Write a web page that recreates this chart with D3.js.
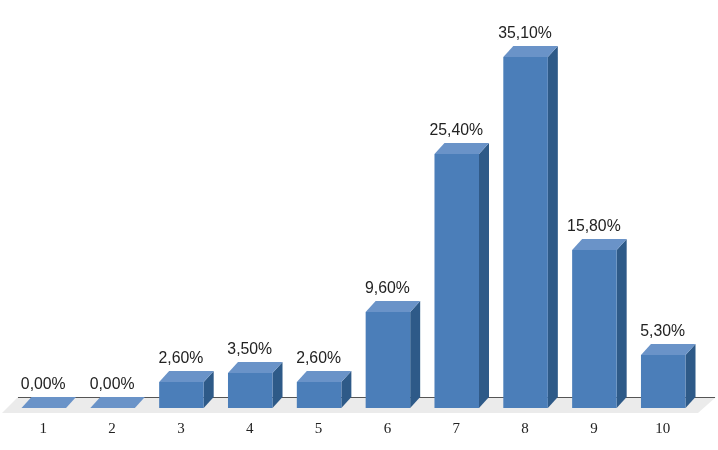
<!DOCTYPE html>
<html>
<head>
<meta charset="utf-8">
<style>
  html, body { margin: 0; padding: 0; background: #fff; }
  svg { display: block; }
  .val { font-family: "Liberation Sans", sans-serif; font-size: 15.8px; fill: #222; }
  .cat { font-family: "Liberation Serif", serif; font-size: 15px; fill: #222; }
</style>
</head>
<body>
<svg id="chart" width="718" height="450"></svg>
<script src="https://cdn.jsdelivr.net/npm/d3@7"></script>
<script>
const categories = ['1', '2', '3', '4', '5', '6', '7', '8', '9', '10'];
const values = [0, 0, 2.6, 3.5, 2.6, 9.6, 25.4, 35.1, 15.8, 5.3];
const labels = ['0,00%', '0,00%', '2,60%', '3,50%', '2,60%', '9,60%', '25,40%', '35,10%', '15,80%', '5,30%'];

const svg = d3.select('#chart');

const xScale = d3.scaleBand()
  .domain(categories)
  .range([21.5, 685.5])
  .paddingInner(0.353);
const yScale = d3.scaleLinear()
  .domain([0, 35.1])
  .range([408, 57]);

// depth of the fake 3d
const dx = 10;
const dy = 11;
const baseY = yScale(0);
const bw = xScale.bandwidth();

const g = svg.append('g').attr('filter', 'url(#soft)');
const defs = svg.append('defs');
defs.append('filter').attr('id', 'soft')
  .append('feGaussianBlur').attr('stdDeviation', 0.4);

// floor
g.append('path')
  .attr('d', d3.line()([[18, baseY - dy], [716, baseY - dy], [698, baseY + 5], [2, baseY + 5]]))
  .attr('fill', '#ebebeb');

// axis line, runs behind the bars
g.append('line')
  .attr('x1', 18).attr('x2', 715)
  .attr('y1', baseY - dy + 0.5).attr('y2', baseY - dy + 0.5)
  .attr('stroke', '#555')
  .attr('stroke-width', 1.2);

const bars = g.selectAll('g.bar')
  .data(categories)
  .enter().append('g')
  .attr('class', 'bar');

// right side
bars.append('path')
  .attr('fill', '#2f5a88')
  .attr('d', (d, i) => {
    const x = xScale(d) + bw;
    const y = yScale(values[i]);
    return d3.line()([[x, y], [x + dx, y - dy], [x + dx, baseY - dy], [x, baseY]]) + 'Z';
  });

// front
bars.append('rect')
  .attr('fill', '#4c7eb9')
  .attr('x', d => xScale(d))
  .attr('y', (d, i) => yScale(values[i]))
  .attr('width', bw)
  .attr('height', (d, i) => baseY - yScale(values[i]));

// top
bars.append('path')
  .attr('fill', '#6a93c8')
  .attr('d', (d, i) => {
    const x = xScale(d);
    const y = yScale(values[i]);
    return d3.line()([[x, y], [x + dx, y - dy], [x + bw + dx, y - dy], [x + bw, y]]) + 'Z';
  });

// value labels
g.selectAll('text.val')
  .data(categories)
  .enter().append('text')
  .attr('class', 'val')
  .attr('text-anchor', 'middle')
  .attr('x', d => xScale(d) + bw / 2 - 0.5)
  .attr('y', (d, i) => yScale(values[i]) - 19)
  .text((d, i) => labels[i]);

// category labels
g.selectAll('text.cat')
  .data(categories)
  .enter().append('text')
  .attr('class', 'cat')
  .attr('text-anchor', 'middle')
  .attr('x', d => xScale(d) + bw / 2 - 0.5)
  .attr('y', 433)
  .text(d => d);
</script>
</body>
</html>
